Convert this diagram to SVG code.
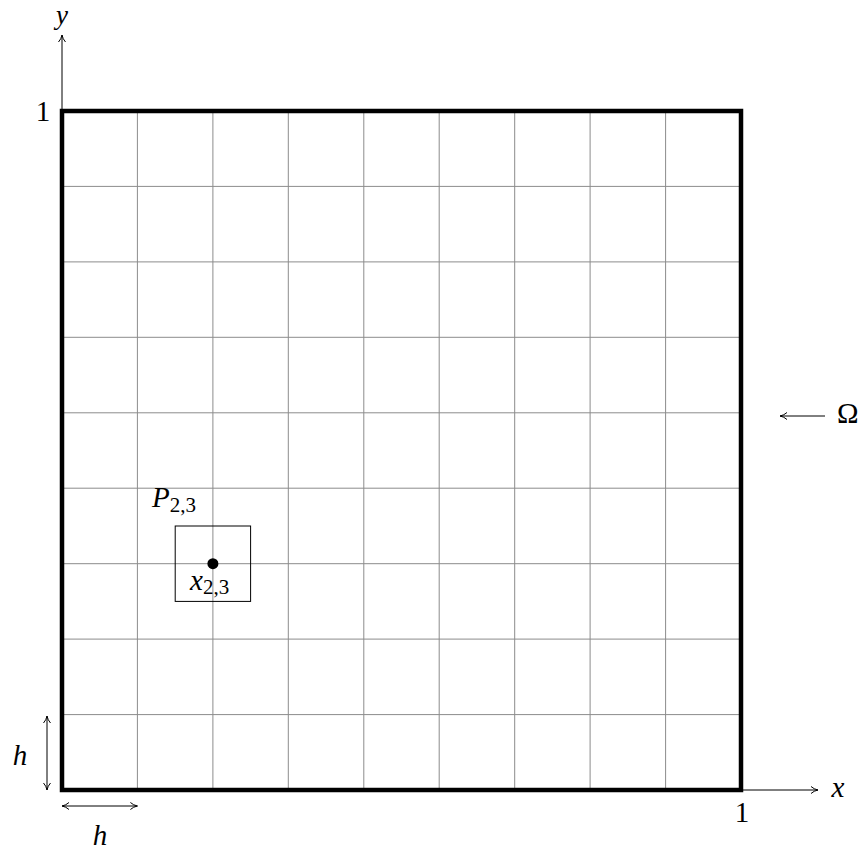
<svg xmlns="http://www.w3.org/2000/svg" width="861" height="851" viewBox="0 0 861 851">
<style>
.grid{stroke:#8c8c8c;stroke-width:1;fill:none}
.axis{stroke:#000;stroke-width:1;fill:none}
text{font-family:'Liberation Serif','DejaVu Serif',serif;font-size:29px;fill:#000}
.it{font-style:italic}
.sub{font-size:21px;font-style:normal}
</style>
<defs>
<marker id="ah" viewBox="0 0 10 10" refX="9" refY="5" markerWidth="10" markerHeight="10" markerUnits="userSpaceOnUse" orient="auto-start-reverse">
<path d="M2,1.5 Q5,4.2 9,5 Q5,5.8 2,8.5" fill="none" stroke="#000" stroke-width="1"/>
</marker>
</defs>
<rect width="861" height="851" fill="#fff"/>
<g id="grid" class="grid">
<path d="M137.4,111V790M212.9,111V790M288.3,111V790M363.8,111V790M439.2,111V790M514.7,111V790M590.1,111V790M665.6,111V790"/>
<path d="M62,186.4H741M62,261.9H741M62,337.3H741M62,412.8H741M62,488.2H741M62,563.7H741M62,639.1H741M62,714.6H741"/>
</g>
<g id="connectors">
<line class="axis" x1="62" y1="111" x2="62" y2="35" marker-end="url(#ah)"/>
<line class="axis" x1="741" y1="790" x2="818" y2="790" marker-end="url(#ah)"/>
<line class="axis" x1="47" y1="716" x2="47" y2="790" marker-start="url(#ah)" marker-end="url(#ah)"/>
<line class="axis" x1="62" y1="806" x2="137.4" y2="806" marker-start="url(#ah)" marker-end="url(#ah)"/>
<line class="axis" x1="825" y1="416" x2="780" y2="416" marker-end="url(#ah)"/>
</g>
<g id="domain">
<rect x="62" y="111" width="679" height="679" fill="none" stroke="#000" stroke-width="4.5"/>
</g>
<g id="cell">
<rect x="175.2" y="526" width="75.4" height="75.4" fill="none" stroke="#000" stroke-width="1"/>
<circle cx="212.9" cy="563.7" r="5.5" fill="#000"/>
</g>
<g id="labels">
<text class="it" x="62" y="24" text-anchor="middle" style="font-size:27px">y</text>
<text class="it" x="838" y="797" text-anchor="middle">x</text>
<text x="43" y="121" text-anchor="middle">1</text>
<text x="742" y="822" text-anchor="middle">1</text>
<text class="it" x="20" y="765" text-anchor="middle">h</text>
<text class="it" x="100" y="845" text-anchor="middle">h</text>
<text x="837" y="423">Ω</text>
<text x="152" y="507"><tspan class="it">P</tspan><tspan class="sub" dy="5">2,3</tspan></text>
<text x="190" y="590"><tspan class="it">x</tspan><tspan class="sub" dy="4">2,3</tspan></text>
</g>
</svg>
